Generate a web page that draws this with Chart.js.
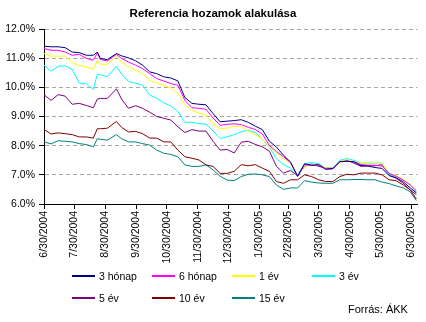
<!DOCTYPE html>
<html><head><meta charset="utf-8">
<script src="https://cdn.jsdelivr.net/npm/chart.js@4.4.1/dist/chart.umd.min.js"></script>
<style>
html,body{margin:0;padding:0;background:#fff;}
#wrap{position:relative;width:426px;height:322px;font-family:"Liberation Sans",Arial,sans-serif;color:#000;overflow:hidden;}
#c{position:absolute;left:0;top:0;}
.t{position:absolute;white-space:nowrap;}
.sw{position:absolute;height:2px;width:23px;}
</style></head><body>
<div id="wrap">
<canvas id="c" width="426" height="322"></canvas>
<div class="t" style="left:0;width:426px;text-align:center;top:6px;font-weight:bold;font-size:11.5px;line-height:14px;">Referencia hozamok alakulása</div>
<div id="legend"></div>
<div class="t" style="left:348px;top:303px;font-size:11px;line-height:13px;">Forrás: ÁKK</div>
</div>
<script>
const dates = ['2004-06-30','2004-07-07','2004-07-14','2004-07-21','2004-07-28','2004-08-04','2004-08-11','2004-08-18',
'2004-08-22','2004-08-25','2004-09-01','2004-09-10','2004-09-15','2004-09-22','2004-09-29','2004-10-06','2004-10-13',
'2004-10-20','2004-10-27','2004-11-03','2004-11-10','2004-11-17','2004-11-24','2004-12-01','2004-12-08','2004-12-15',
'2004-12-22','2004-12-29','2005-01-05','2005-01-12','2005-01-19','2005-01-26','2005-02-02','2005-02-09','2005-02-16',
'2005-02-23','2005-03-02','2005-03-09','2005-03-16','2005-03-23','2005-03-30','2005-04-06','2005-04-13','2005-04-20',
'2005-04-27','2005-05-04','2005-05-11','2005-05-18','2005-05-25','2005-06-01','2005-06-08','2005-06-15','2005-06-22',
'2005-06-29','2005-07-05'];

const seriesNames = ['3 hónap','6 hónap','1 év','3 év','5 év','10 év','15 év'];
const seriesColors = ['#000080','#FF00FF','#FFFF00','#00FFFF','#800080','#800000','#008080'];

const m3 = [11.41,11.39,11.39,11.36,11.21,11.19,11.10,11.10,
11.21,10.99,10.95,11.16,11.08,11.01,10.91,10.76,10.53,10.47,10.36,10.32,10.22,
9.65,9.45,9.42,9.40,9.10,8.82,8.84,
8.86,8.89,8.80,8.67,8.55,8.15,7.95,7.67,7.44,6.95,
7.38,7.33,7.35,7.20,7.22,7.45,7.46,7.45,7.32,7.30,7.25,7.22,
6.97,6.90,6.76,6.55,6.38];
const m6 = [11.33,11.27,11.27,11.21,11.10,11.13,10.99,10.93,
11.18,10.95,10.91,11.13,10.99,10.87,10.76,10.64,10.47,10.30,10.22,10.13,10.07,
9.55,9.30,9.28,9.25,8.95,8.70,8.73,
8.75,8.72,8.63,8.55,8.40,8.00,7.80,7.62,7.42,6.95,
7.35,7.32,7.33,7.18,7.20,7.45,7.47,7.45,7.35,7.33,7.33,7.30,
7.05,6.95,6.82,6.65,6.45];
const y1 = [11.16,11.07,11.07,11.07,10.85,10.75,10.70,10.62,
10.91,10.79,10.79,11.07,10.87,10.70,10.59,10.47,10.24,10.15,10.07,9.96,9.81,
9.40,9.22,9.12,9.05,8.75,8.58,8.60,
8.67,8.65,8.50,8.38,8.22,7.95,7.75,7.55,7.40,6.95,
7.30,7.35,7.35,7.23,7.23,7.46,7.52,7.45,7.40,7.40,7.40,7.38,
7.05,6.97,6.85,6.68,6.43];
const y3 = [10.76,10.55,10.72,10.74,10.62,10.15,10.12,9.93,
10.45,10.43,10.37,10.72,10.45,10.20,10.14,10.07,9.74,9.62,9.47,9.36,9.18,
8.80,8.80,8.75,8.74,8.50,8.25,8.30,
8.38,8.48,8.53,8.45,8.22,7.95,7.55,7.35,7.23,7.00,
7.38,7.42,7.38,7.23,7.23,7.50,7.55,7.50,7.40,7.40,7.40,7.40,
7.00,6.95,6.82,6.66,6.40];
const y5 = [9.75,9.55,9.75,9.70,9.42,9.45,9.38,9.30,
9.60,9.62,9.62,9.95,9.60,9.28,9.37,9.28,9.15,9.00,8.94,8.88,8.65,
8.45,8.55,8.50,8.50,8.15,7.85,7.87,
7.75,8.12,8.15,8.04,7.96,7.81,7.29,7.06,7.15,6.97,
7.29,7.37,7.29,7.23,7.23,7.46,7.50,7.40,7.29,7.31,7.31,7.35,
7.00,6.88,6.71,6.48,6.32];
const y10 = [8.56,8.40,8.44,8.41,8.38,8.30,8.30,8.26,
8.58,8.58,8.60,8.83,8.63,8.47,8.49,8.41,8.26,8.26,8.13,8.13,7.85,
7.62,7.57,7.51,7.34,7.29,7.05,7.05,
7.12,7.35,7.31,7.35,7.23,7.12,6.77,6.71,6.83,6.83,
7.00,6.94,6.83,6.77,6.77,6.94,7.02,7.00,7.06,7.06,7.06,7.00,
6.83,6.80,6.65,6.48,6.17];
const y15 = [8.13,8.06,8.17,8.15,8.13,8.07,8.04,7.96,
8.24,8.22,8.19,8.38,8.24,8.13,8.13,8.07,8.02,7.85,7.74,7.70,7.62,
7.34,7.29,7.29,7.34,7.17,6.95,6.82,
6.80,6.94,7.02,7.03,7.00,6.94,6.65,6.50,6.55,6.55,
6.80,6.75,6.72,6.71,6.71,6.83,6.83,6.84,6.84,6.83,6.83,6.75,
6.70,6.62,6.55,6.42,6.12];
const seriesValues = [m3, m6, y1, y3, y5, y10, y15];

const tickDates = ['2004-06-30','2004-07-30','2004-08-30','2004-09-30','2004-10-30','2004-11-30','2004-12-30',
'2005-01-30','2005-02-28','2005-03-30','2005-04-30','2005-05-30','2005-06-30'];
const tickLabels = ['6/30/2004','7/30/2004','8/30/2004','9/30/2004','10/30/2004','11/30/2004','12/30/2004',
'1/30/2005','2/28/2005','3/30/2005','4/30/2005','5/30/2005','6/30/2005'];

const BASE = Date.UTC(2004, 5, 30);
function toDay(s) { const p = s.split('-'); return (Date.UTC(+p[0], +p[1] - 1, +p[2]) - BASE) / 86400000; }
const tickDays = tickDates.map(toDay);

Chart.defaults.font.family = '"Liberation Sans", Arial, sans-serif';
Chart.defaults.font.size = 10.5;
Chart.defaults.color = '#000';

new Chart(document.getElementById('c'), {
  type: 'line',
  data: {
    datasets: seriesNames.map((n, i) => ({
      label: n,
      data: dates.map((d, j) => ({ x: toDay(d), y: seriesValues[i][j] })),
      borderColor: seriesColors[i],
      backgroundColor: seriesColors[i],
      borderWidth: 1,
      pointRadius: 0,
      tension: 0,
      fill: false
    }))
  },
  options: {
    responsive: false,
    animation: false,
    devicePixelRatio: 1,
    layout: { padding: { top: 29, right: 6, bottom: 0, left: 0 } },
    plugins: { legend: { display: false }, title: { display: false }, tooltip: { enabled: false } },
    scales: {
      x: {
        type: 'linear', min: 0, max: 371,
        afterBuildTicks: s => { s.ticks = tickDays.map(v => ({ value: v })); },
        afterFit: s => { s.height = 118; },
        grid: { drawOnChartArea: false, drawTicks: true, tickLength: 5, tickColor: '#000' },
        border: { color: '#000', width: 1 },
        ticks: { autoSkip: false, minRotation: 90, maxRotation: 90, padding: 2, color: '#000',
                 callback: (v, i) => tickLabels[i] }
      },
      y: {
        min: 6, max: 12,
        afterFit: s => { s.width = 44; },
        ticks: { stepSize: 0.5, padding: 4, color: '#000', callback: v => v.toFixed(1) + '%' },
        grid: { color: '#a8a8a0', tickLength: 5, tickColor: '#000', tickBorderDash: [] },
        border: { color: '#000', width: 1, dash: [4, 3] }
      }
    }
  }
});

const leg = document.getElementById('legend');
seriesNames.forEach((n, i) => {
  const col = i % 4, row = Math.floor(i / 4);
  const x = 72 + 80 * col, y = 276 + 22 * row;
  const sw = document.createElement('div');
  sw.className = 'sw';
  sw.style.left = x + 'px'; sw.style.top = (y - 1) + 'px'; sw.style.background = seriesColors[i];
  leg.appendChild(sw);
  const t = document.createElement('div');
  t.className = 't';
  t.style.left = (x + 27) + 'px'; t.style.top = (y - 6) + 'px';
  t.style.fontSize = '10.5px'; t.style.lineHeight = '13px';
  t.textContent = n;
  leg.appendChild(t);
});
</script>
</body></html>
